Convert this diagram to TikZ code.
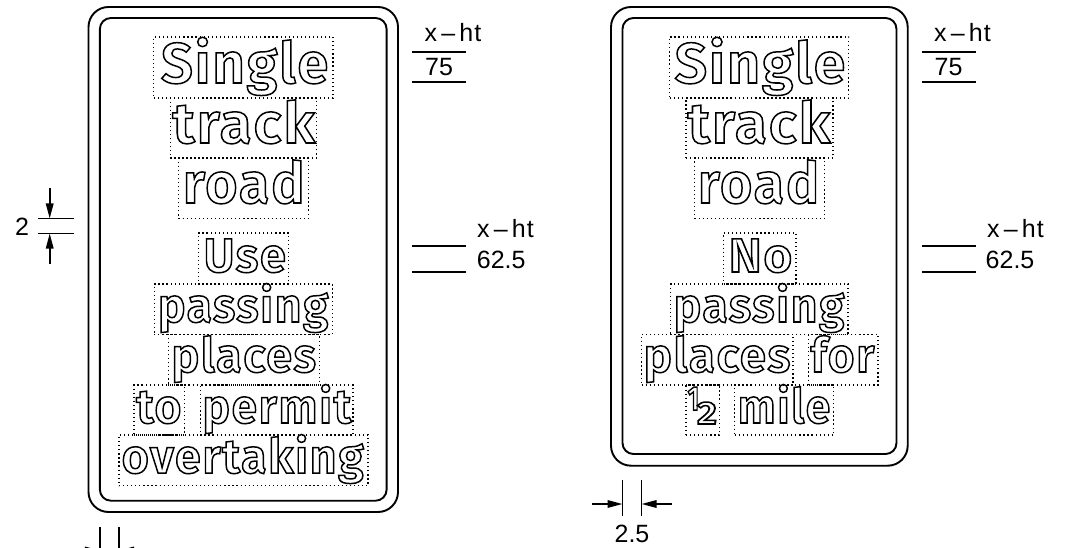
\documentclass[tikz,border=0pt]{standalone}
\usepackage{fontspec}
\usepackage{graphicx}
\usetikzlibrary{arrows.meta}
\setmainfont{Liberation Sans}
\newfontfamily\signfont{Fira Sans SemiBold}[LetterSpace=3]
\newcommand{\lowfont}{\fontsize{48}{48}\selectfont}
\newcommand{\outlined}[1]{\special{pdf:code 1 Tr 1.5 w}#1\special{pdf:code 0 Tr}}
% name, x0,y0,x1,y1, ink x0, ink x1, baseline, text
\newcommand{\signword}[9]{%
  \pgfmathsetmacro{\bw}{#4-#2}\pgfmathsetmacro{\bh}{#5-#3}%
  \pgfmathsetmacro{\inkw}{#7-#6-1.2}\pgfmathsetmacro{\inkc}{(#7+#6)/2}%
  \node[wordbox,minimum width=\bw pt,minimum height=\bh pt] (#1) at ({(#2+#4)/2},{(#3+#5)/2}) {};
  \node[wordtext] (#1t) at (\inkc,#8) {\resizebox{\inkw pt}{\height}{\outlined{\signfont #9}}};
}
\tikzset{
  panel/.style={draw=black,line width=1.9pt},
  wordbox/.style={draw=black,line width=1.2pt,dash pattern=on 1.2pt off 2.85pt,inner sep=0pt},
  wordtext/.style={anchor=base,inner sep=0pt,font=\fontsize{57}{57}\selectfont},
  dimline/.style={draw=black,line width=1.7pt},
  dimarrow/.style={draw=black,line width=1.7pt,-{Triangle[length=15pt,width=7.5pt]}},
  dimtext/.style={inner sep=0pt,font=\fontsize{25}{25}\selectfont,anchor=base},
}
\begin{document}
\begin{tikzpicture}[x=1pt,y=-1pt]
\clip (0,0) rectangle (1065,548);
\useasboundingbox (0,0) rectangle (1065,548);
% left sign
\draw[panel,rounded corners=20pt] (88.5,7) rectangle (398,512);
\draw[panel,rounded corners=11pt] (99.9,18) rectangle (386.6,500.7);
\signword{a1}{153.7}{37}{333}{98}{160.4}{329}{83}{Single}
\signword{a2}{170.3}{98}{316.7}{158}{171.8}{315.7}{143}{track}
\signword{a3}{178.5}{158}{308.4}{218.5}{182.2}{305.3}{203}{road}
\signword{a4}{198.2}{233}{288.8}{284}{202.9}{286.7}{272}{\lowfont Use}
\signword{a5}{154.2}{284}{332.2}{334.3}{157.3}{329}{322}{\lowfont passing}
\signword{a6}{168.2}{334.3}{319.3}{385}{170.8}{316.7}{372}{\lowfont places}
\signword{a7}{134}{385}{184.2}{435}{135.6}{182.2}{423}{\lowfont to}
\signword{a8}{200.3}{385}{353}{435}{201.8}{351.9}{423}{\lowfont permit}
\signword{a9}{119}{435}{368}{485.7}{121}{364.3}{473}{\lowfont overtaking}
% right sign
\draw[panel,rounded corners=20pt] (611,7) rectangle (907.7,465.7);
\draw[panel,rounded corners=11pt] (622.5,18) rectangle (896.5,454);
\signword{b1}{669.7}{37}{848.7}{98}{674}{846}{83}{Single}
\signword{b2}{686}{98}{833}{158}{687}{831}{143}{track}
\signword{b3}{694.5}{158}{824.5}{218.5}{697}{820}{203}{road}
\signword{b4}{723.5}{233}{796}{284}{728}{793}{272}{\lowfont No}
\signword{b5}{670.5}{284}{848}{334.3}{673}{845}{322}{\lowfont passing}
\signword{b6}{641.5}{334.3}{793}{385}{643}{791}{372}{\lowfont places}
\signword{b7}{808.5}{334.3}{878}{385}{810}{875}{372}{\lowfont for}
\signword{b8}{686}{385}{719.5}{435}{687}{700}{410}{\fontsize{34}{34}\selectfont 1}
\node[wordtext] (b8b) at (707,424) {\resizebox{20pt}{\height}{\outlined{\signfont\fontsize{32}{32}\selectfont 2}}};
\signword{b9}{734.5}{385}{833.5}{435}{737}{831}{423}{\lowfont mile}
% x-height dimensions, left
\coordinate (l1a) at (412.4,52); \coordinate (l1b) at (465.8,52);
\coordinate (l2a) at (412.4,82); \coordinate (l2b) at (465.8,82);
\coordinate (l3a) at (412.4,246); \coordinate (l3b) at (465.8,246);
\coordinate (l4a) at (412.4,272); \coordinate (l4b) at (465.8,272);
\draw[dimline] (l1a)--(l1b); \draw[dimline] (l2a)--(l2b);
\draw[dimline] (l3a)--(l3b); \draw[dimline] (l4a)--(l4b);
\node[dimtext,anchor=base west] (t1) at (424.5,42) {x\,–\,h\kern1pt t};
\node[dimtext,anchor=base west] (t2) at (425,75.7) {75};
\node[dimtext,anchor=base west] (t3) at (477,237) {x\,–\,h\kern1pt t};
\node[dimtext,anchor=base west] (t4) at (476.7,268) {62.5};
% x-height dimensions, right
\coordinate (r1a) at (922,52); \coordinate (r1b) at (976,52);
\coordinate (r2a) at (922,82); \coordinate (r2b) at (976,82);
\coordinate (r3a) at (922,246); \coordinate (r3b) at (976,246);
\coordinate (r4a) at (922,272); \coordinate (r4b) at (976,272);
\draw[dimline] (r1a)--(r1b); \draw[dimline] (r2a)--(r2b);
\draw[dimline] (r3a)--(r3b); \draw[dimline] (r4a)--(r4b);
\node[dimtext,anchor=base west] (t5) at (934,42) {x\,–\,h\kern1pt t};
\node[dimtext,anchor=base west] (t6) at (934.5,75.7) {75};
\node[dimtext,anchor=base west] (t7) at (987,237) {x\,–\,h\kern1pt t};
\node[dimtext,anchor=base west] (t8) at (985.5,268) {62.5};
% border dimension "2"
\coordinate (h1a) at (37.8,218.5); \coordinate (h1b) at (74,218.5);
\coordinate (h2a) at (37.8,233.5); \coordinate (h2b) at (74,233.5);
\coordinate (v1) at (49.7,188); \coordinate (v2) at (49.7,264);
\coordinate (v1e) at (49.7,218.5); \coordinate (v2e) at (49.7,233.5);
\draw[dimline] (h1a)--(h1b); \draw[dimline] (h2a)--(h2b);
\draw[dimarrow] (v1)--(v1e); \draw[dimarrow] (v2)--(v2e);
\node[dimtext,anchor=base west] (t9) at (15,236) {2};
% border dimension "2.5", right
\coordinate (k1a) at (622.5,480); \coordinate (k1b) at (622.5,516);
\coordinate (k2a) at (641.5,480); \coordinate (k2b) at (641.5,516);
\coordinate (m1) at (592,504); \coordinate (m2) at (672,504);
\coordinate (m1e) at (622.5,504); \coordinate (m2e) at (641.5,504);
\draw[dimline] (k1a)--(k1b); \draw[dimline] (k2a)--(k2b);
\draw[dimarrow] (m1)--(m1e); \draw[dimarrow] (m2)--(m2e);
\node[dimtext,anchor=base] (t10) at (632,542) {2.5};
% border dimension, left (cut off by the page edge)
\coordinate (n1a) at (99.9,526.7); \coordinate (n1b) at (99.9,562);
\coordinate (n2a) at (119,526.7); \coordinate (n2b) at (119,562);
\coordinate (p1) at (69,550.5); \coordinate (p2) at (150,550.5);
\coordinate (p1e) at (99.9,550.5); \coordinate (p2e) at (119,550.5);
\draw[dimline] (n1a)--(n1b); \draw[dimline] (n2a)--(n2b);
\draw[dimarrow] (p1)--(p1e); \draw[dimarrow] (p2)--(p2e);
\end{tikzpicture}
\end{document}
